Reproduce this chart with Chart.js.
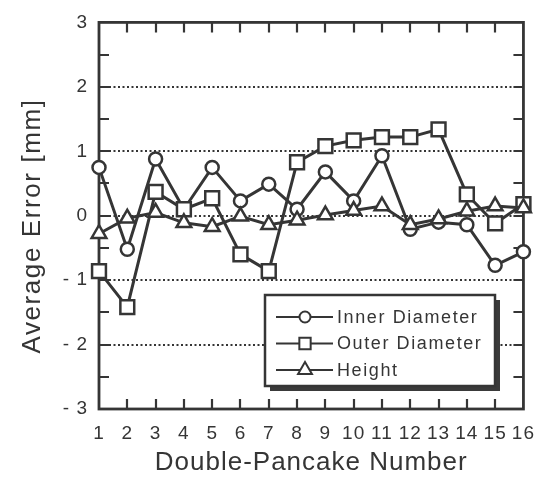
<!DOCTYPE html>
<html>
<head>
<meta charset="utf-8">
<script src="https://cdn.jsdelivr.net/npm/chart.js@4/dist/chart.umd.min.js"></script>
<style>
  html, body { margin: 0; padding: 0; background: #fff; }
  #wrap { width: 547px; height: 480px; }
</style>
</head>
<body>
<div id="wrap"><canvas id="chart" width="547" height="480"></canvas></div>
<script>
const pancakes = ['1','2','3','4','5','6','7','8','9','10','11','12','13','14','15','16'];
const innerDiameter = [0.75, -0.52, 0.88, 0.10, 0.75, 0.23, 0.49, 0.10, 0.68, 0.23, 0.93, -0.21, -0.10, -0.14, -0.77, -0.56];
const outerDiameter = [-0.86, -1.42, 0.37, 0.10, 0.27, -0.60, -0.86, 0.83, 1.08, 1.17, 1.22, 1.22, 1.34, 0.33, -0.12, 0.18];
const height = [-0.28, -0.04, 0.05, -0.11, -0.17, -0.01, -0.14, -0.07, 0.01, 0.08, 0.15, -0.14, -0.05, 0.07, 0.15, 0.12];
const yTicks = [-3, -2, -1, 0, 1, 2, 3];

const INK = '#353535';
const FONT = '"Liberation Sans", Arial, Helvetica, sans-serif';

function series(label, data, style, radius, order) {
  return {
    label, data, order,
    borderColor: INK, borderWidth: 3,
    pointStyle: style, pointRadius: radius,
    pointBackgroundColor: '#fff', pointBorderColor: INK, pointBorderWidth: 2.5,
    tension: 0, clip: false, fill: false,
  };
}

// same shapes as Chart.js point styles, for the legend
function drawMarker(ctx, style, x, y, r) {
  ctx.beginPath();
  if (style === 'circle') {
    ctx.arc(x, y, r, 0, Math.PI * 2);
  } else if (style === 'rect') {
    const s = Math.SQRT1_2 * r;
    ctx.rect(x - s, y - s, 2 * s, 2 * s);
  } else {
    ctx.moveTo(x, y - r);
    ctx.lineTo(x + Math.sin(2 * Math.PI / 3) * r, y + r / 2);
    ctx.lineTo(x - Math.sin(2 * Math.PI / 3) * r, y + r / 2);
    ctx.closePath();
  }
  ctx.fillStyle = '#fff';
  ctx.fill();
  ctx.stroke();
}

const framePlugin = {
  id: 'frame',
  beforeDraw(chart) {
    chart.ctx.letterSpacing = '1px';
  },
  beforeDatasetsDraw(chart) {
    const { ctx, chartArea: a, scales: { x, y } } = chart;
    ctx.save();
    ctx.strokeStyle = INK;

    // dotted grid at interior integers
    ctx.lineWidth = 2;
    ctx.setLineDash([2, 2.5]);
    yTicks.slice(1, -1).forEach(v => {
      const py = Math.round(y.getPixelForValue(v));
      ctx.beginPath();
      ctx.moveTo(a.left + 10, py);
      ctx.lineTo(a.right - 10, py);
      ctx.stroke();
    });
    ctx.setLineDash([]);

    // inward ticks
    ctx.lineWidth = 2.2;
    for (let v = -2.5; v <= 2.5; v += 0.5) {
      const py = Math.round(y.getPixelForValue(v));
      ctx.beginPath();
      ctx.moveTo(a.left, py); ctx.lineTo(a.left + 10, py);
      ctx.moveTo(a.right, py); ctx.lineTo(a.right - 10, py);
      ctx.stroke();
    }
    pancakes.slice(1, -1).forEach((_, i) => {
      const px = Math.round(x.getPixelForValue(i + 1));
      ctx.beginPath();
      ctx.moveTo(px, a.top); ctx.lineTo(px, a.top + 10);
      ctx.moveTo(px, a.bottom); ctx.lineTo(px, a.bottom - 10);
      ctx.stroke();
    });

    // frame
    ctx.lineWidth = 2.8;
    ctx.strokeRect(a.left, a.top, a.right - a.left, a.bottom - a.top);
    ctx.restore();
  },
  afterDraw(chart) {
    const { ctx } = chart;
    ctx.save();
    // y axis title
    ctx.translate(33, 226);
    ctx.rotate(-Math.PI / 2);
    ctx.font = '26px ' + FONT;
    ctx.letterSpacing = '1.6px';
    ctx.fillStyle = INK;
    ctx.textAlign = 'center';
    ctx.textBaseline = 'middle';
    ctx.fillText('Average Error [mm]', 0, 0);
    ctx.restore();

    // legend box with drop shadow
    const L = 265, T = 295, W = 230, H = 91;
    ctx.save();
    ctx.fillStyle = '#3a3a3a';
    ctx.fillRect(L + 5, T + 5, W, H);
    ctx.fillStyle = '#fff';
    ctx.fillRect(L, T, W, H);
    ctx.strokeStyle = INK;
    ctx.lineWidth = 2.5;
    ctx.strokeRect(L, T, W, H);

    ctx.font = '18px ' + FONT;
    ctx.letterSpacing = '1.6px';
    ctx.textBaseline = 'middle';
    chart.data.datasets.forEach((ds, i) => {
      const ry = T + 22 + i * 26.5;
      ctx.strokeStyle = INK;
      ctx.lineWidth = 2;
      ctx.beginPath();
      ctx.moveTo(L + 11, ry); ctx.lineTo(L + 68, ry);
      ctx.stroke();
      drawMarker(ctx, ds.pointStyle, L + 40, ry, ds.pointStyle === 'circle' ? 5.5 : 8);
      ctx.fillStyle = INK;
      ctx.fillText(ds.label, L + 72, ry + 1);
    });
    ctx.restore();
  },
};

new Chart(document.getElementById('chart'), {
  type: 'line',
  data: {
    labels: pancakes,
    datasets: [
      series('Inner Diameter', innerDiameter, 'circle', 6.5, 3),
      series('Outer Diameter', outerDiameter, 'rect', 9.8, 2),
      series('Height', height, 'triangle', 8.5, 1),
    ],
  },
  options: {
    responsive: false,
    animation: false,
    devicePixelRatio: 1,
    layout: { padding: { top: 20, right: 21, left: 0, bottom: 0 } },
    plugins: { legend: { display: false }, tooltip: { enabled: false } },
    scales: {
      x: {
        type: 'category',
        offset: false,
        grid: { display: false, drawTicks: false },
        border: { display: false },
        ticks: { color: INK, font: { family: FONT, size: 19 }, padding: 13, autoSkip: false, maxRotation: 0 },
        title: { display: true, text: 'Double-Pancake Number', color: INK, font: { family: FONT, size: 26 }, padding: { top: 0, bottom: 2 } },
        afterFit: s => { s.height = 71; },
      },
      y: {
        min: -3, max: 3,
        grid: { display: false, drawTicks: false },
        border: { display: false },
        ticks: {
          stepSize: 1, color: INK, font: { family: FONT, size: 19 }, padding: 11,
          callback: v => v < 0 ? '- ' + Math.abs(v) : String(v),
        },
        afterFit: s => { s.width = 99; },
      },
    },
  },
  plugins: [framePlugin],
});
</script>
</body>
</html>
